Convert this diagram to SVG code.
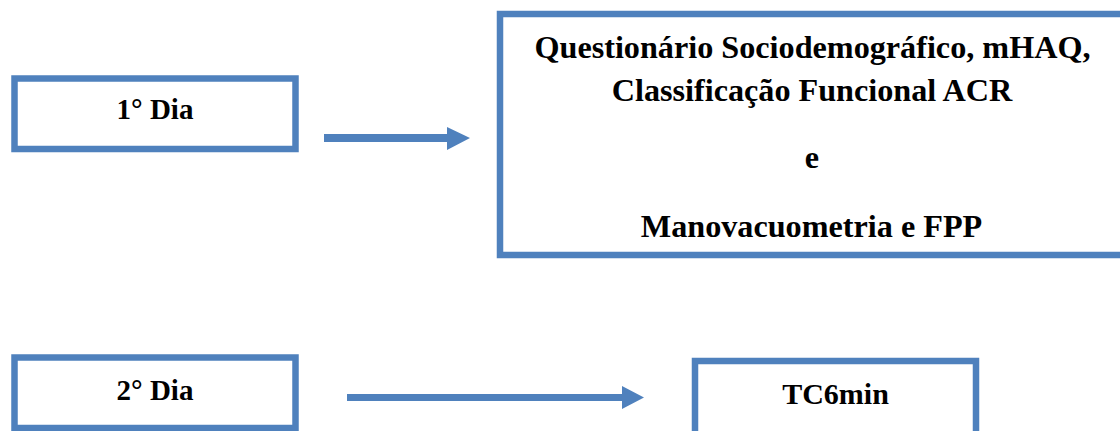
<svg xmlns="http://www.w3.org/2000/svg" width="1120" height="431" viewBox="0 0 1120 431">
<style>
.box{fill:#fff;stroke:#4F81BD;stroke-width:6.5}
.open{fill:none;stroke:#4F81BD;stroke-width:6.5}
.t{font-family:"Liberation Serif","Times New Roman",serif;font-weight:bold;font-size:29px;fill:#000;text-anchor:middle}
.big{font-size:32.2px}
.sh{fill:#4F81BD}
</style>
<rect width="1120" height="431" fill="#fff"/>
<g id="dia1">
<rect class="box" x="14.5" y="78.5" width="281" height="70.5"/>
<text class="t" x="155" y="119">1° Dia</text>
</g>
<g id="atividades1">
<path class="open" d="M1120,14 H500 V255 H1120"/>
<text class="t big" x="812.5" y="58">Questionário Sociodemográfico, mHAQ,</text>
<text class="t big" x="812" y="101">Classificação Funcional ACR</text>
<text class="t big" x="812" y="168">e</text>
<text class="t big" x="811.5" y="237">Manovacuometria e FPP</text>
</g>
<g id="dia2">
<rect class="box" x="14.5" y="357.5" width="281" height="70.5"/>
<text class="t" x="155" y="400">2° Dia</text>
</g>
<g id="tc6min">
<path class="open" d="M695,431 V361 H976 V431"/>
<text class="t" x="835.5" y="404" style="font-size:30px">TC6min</text>
</g>
<g id="connectors">
<polygon class="sh" points="324,134 447,134 447,127 470,138 447,150 447,142 324,142"/>
<polygon class="sh" points="347,394 622,394 622,386 644,397.5 622,409 622,401 347,401"/>
</g>
</svg>
